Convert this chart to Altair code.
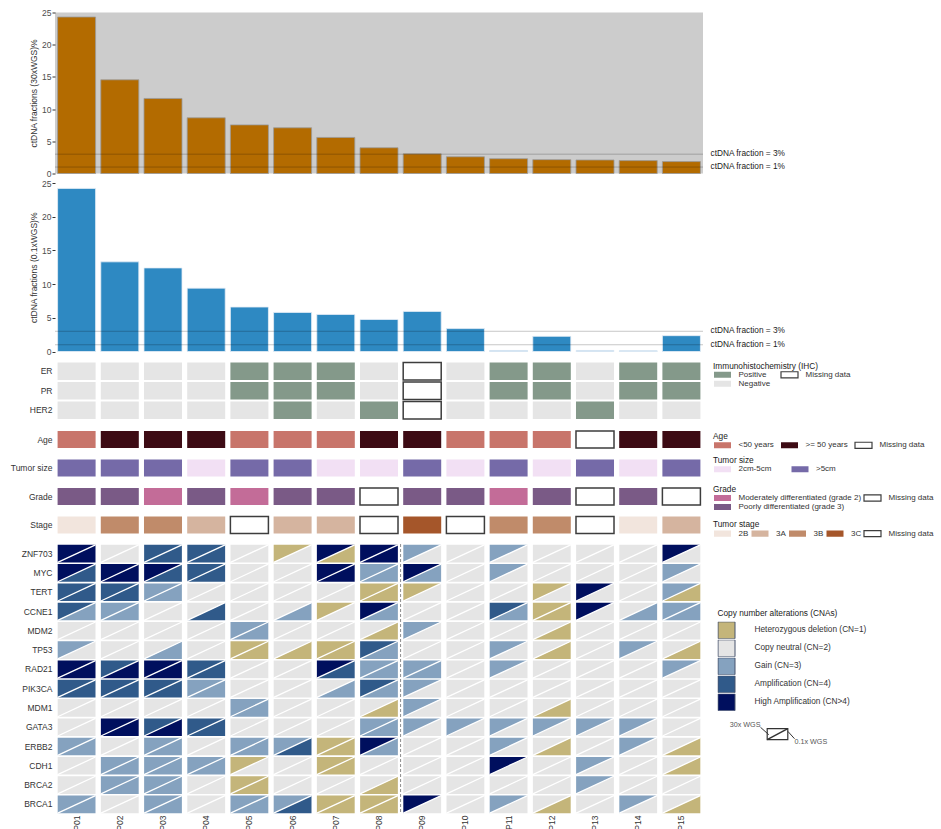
import altair as alt
import pandas as pd

# ---------------- data ----------------
patients = ["P01", "P02", "P03", "P04", "P05", "P06", "P07", "P08",
            "P09", "P10", "P11", "P12", "P13", "P14", "P15"]
ctdna_30x = [24.3, 14.55, 11.65, 8.65, 7.55, 7.1, 5.6, 4.0, 3.05, 2.6, 2.3, 2.15, 2.1, 2.0, 1.85]
ctdna_01x = [24.2, 13.3, 12.4, 9.4, 6.6, 5.8, 5.5, 4.75, 5.95, 3.4, 0.15, 2.25, 0.15, 0.1, 2.35]
thresholds = [3, 1]
threshold_labels = ["ctDNA fraction = 3%", "ctDNA fraction = 1%"]

POS, NEG, MISS = "Positive", "Negative", "Missing data"
ihc_markers = ["ER", "PR", "HER2"]
er = [NEG, NEG, NEG, NEG, POS, POS, POS, NEG, MISS, NEG, POS, POS, NEG, POS, POS]
pr = [NEG, NEG, NEG, NEG, POS, POS, POS, NEG, MISS, NEG, POS, POS, NEG, POS, POS]
her2 = [NEG, NEG, NEG, NEG, NEG, POS, NEG, POS, MISS, NEG, NEG, NEG, POS, NEG, NEG]

A1, A2 = "<50 years", ">= 50 years"
age = [A1, A2, A2, A2, A1, A1, A1, A2, A2, A1, A1, A1, MISS, A2, A2]
S1, S2 = "2cm-5cm", ">5cm"
tumor_size = [S2, S2, S2, S1, S2, S2, S1, S1, S2, S1, S2, S1, S2, S1, S2]
G2, G3 = "Moderately differentiated (grade 2)", "Poorly differentiated (grade 3)"
grade = [G3, G3, G2, G3, G2, G3, G3, MISS, G3, G3, G2, G3, MISS, G3, MISS]
stage = ["2B", "3B", "3B", "3A", MISS, "3A", "3A", MISS, "3C", MISS, "3B", "3B", MISS, "2B", "3A"]

genes = ["ZNF703", "MYC", "TERT", "CCNE1", "MDM2", "TP53", "RAD21", "PIK3CA",
         "MDM1", "GATA3", "ERBB2", "CDH1", "BRCA2", "BRCA1"]
# copy number class per patient (1..5); upper-left triangle = 30x WGS
cna_30x = {
    "ZNF703": [5, 2, 4, 4, 2, 1, 5, 5, 3, 2, 3, 2, 2, 2, 5],
    "MYC":    [5, 5, 5, 4, 2, 2, 5, 3, 5, 2, 3, 2, 2, 2, 3],
    "TERT":   [4, 4, 3, 2, 2, 2, 2, 1, 1, 2, 2, 1, 5, 2, 3],
    "CCNE1":  [4, 3, 2, 2, 2, 2, 1, 5, 2, 2, 4, 1, 5, 2, 3],
    "MDM2":   [2, 2, 2, 2, 3, 2, 2, 2, 3, 2, 2, 2, 2, 2, 2],
    "TP53":   [3, 2, 2, 2, 1, 2, 1, 4, 2, 2, 3, 2, 2, 3, 2],
    "RAD21":  [5, 4, 5, 4, 2, 2, 5, 3, 3, 2, 3, 2, 2, 2, 3],
    "PIK3CA": [4, 4, 4, 3, 2, 2, 2, 4, 3, 2, 2, 2, 2, 2, 2],
    "MDM1":   [2, 2, 2, 2, 3, 2, 2, 2, 3, 2, 2, 2, 2, 2, 2],
    "GATA3":  [2, 5, 4, 4, 2, 2, 2, 3, 3, 3, 3, 3, 3, 3, 2],
    "ERBB2":  [3, 2, 3, 2, 3, 3, 1, 5, 2, 2, 3, 2, 2, 3, 2],
    "CDH1":   [2, 3, 3, 3, 1, 2, 1, 2, 2, 2, 5, 2, 3, 2, 2],
    "BRCA2":  [2, 3, 3, 2, 1, 2, 2, 2, 2, 2, 2, 2, 3, 2, 2],
    "BRCA1":  [3, 2, 3, 2, 3, 3, 1, 1, 5, 2, 3, 2, 2, 3, 2],
}
# lower-right triangle = 0.1x WGS
cna_01x = {
    "ZNF703": [5, 2, 4, 4, 2, 2, 1, 5, 2, 2, 2, 2, 2, 2, 2],
    "MYC":    [4, 5, 4, 4, 2, 2, 5, 3, 3, 2, 2, 2, 2, 2, 2],
    "TERT":   [4, 4, 3, 2, 2, 2, 2, 1, 2, 2, 2, 2, 2, 2, 1],
    "CCNE1":  [3, 3, 2, 4, 2, 3, 2, 3, 2, 2, 3, 1, 2, 3, 3],
    "MDM2":   [2, 2, 2, 2, 3, 2, 2, 1, 2, 2, 2, 1, 2, 2, 2],
    "TP53":   [2, 2, 3, 2, 1, 1, 1, 3, 2, 2, 2, 1, 2, 2, 1],
    "RAD21":  [5, 5, 5, 4, 2, 2, 4, 3, 3, 2, 2, 2, 2, 2, 2],
    "PIK3CA": [4, 4, 4, 3, 2, 2, 3, 3, 2, 2, 2, 2, 2, 2, 2],
    "MDM1":   [2, 2, 2, 2, 3, 2, 2, 1, 2, 2, 2, 1, 2, 2, 2],
    "GATA3":  [2, 5, 5, 4, 2, 2, 2, 3, 2, 2, 2, 2, 2, 2, 2],
    "ERBB2":  [3, 2, 3, 2, 3, 4, 1, 3, 2, 2, 2, 1, 2, 2, 1],
    "CDH1":   [2, 3, 3, 3, 2, 2, 1, 2, 2, 2, 2, 2, 2, 2, 1],
    "BRCA2":  [2, 3, 3, 2, 1, 2, 2, 1, 2, 2, 2, 2, 2, 2, 2],
    "BRCA1":  [3, 2, 3, 2, 3, 4, 1, 1, 2, 2, 2, 1, 2, 2, 1],
}
cna_labels = ["Heterozygous deletion (CN=1)", "Copy neutral (CN=2)", "Gain (CN=3)",
              "Amplification (CN=4)", "High Amplification (CN>4)"]
cna_colors = ["#c4b57a", "#e5e5e5", "#85a2bf", "#305a8a", "#000f5e"]

# ---------------- styling ----------------
FONT = "Liberation Sans"
FS = 8.5
LFS = 8.0
W = 648
LEG_X = 658
TXT = "#333333"
TRANSP = "rgba(0,0,0,0)"
RECT_SYM = "M-1,-0.36H1V0.36H-1Z"
SQ_SYM = "M-1,-1H1V1H-1Z"
KX = 2.5  # horizontal shift of the small split-cell key

xscale = alt.Scale(type="band", domain=patients, paddingInner=0.12, paddingOuter=0.06)
x_axis_bottom = alt.Axis(title=None, labelAngle=-90, labelFontSize=FS, labelColor=TXT,
                         ticks=False, domain=False, labelPadding=1,
                         labelAlign="right", labelBaseline="middle")


def xenc(show=False):
    return alt.X("patient:N", scale=xscale, axis=x_axis_bottom if show else None)


yheat_axis = alt.Axis(title=None, ticks=False, domain=False, labelFontSize=FS,
                      labelColor=TXT, labelPadding=3)


def ybar_axis(title):
    return alt.Axis(title=title, values=[0, 5, 10, 15, 20, 25], grid=False, domain=False,
                    tickSize=3, tickColor=TXT, labelFontSize=FS, labelColor="#4d4d4d",
                    labelPadding=1, titleFontSize=FS, titleFontWeight="normal",
                    titleColor=TXT, titlePadding=3)


# ---------------- bar panels ----------------
df_bars = pd.DataFrame({"patient": patients, "v30": ctdna_30x, "v01": ctdna_01x})
df_thr = pd.DataFrame({"t": thresholds, "label": threshold_labels})


def bar_panel(field, title, color, edge, height, bg):
    ys = alt.Scale(domain=[0, 25], nice=False)
    ax = ybar_axis(title)
    bars = alt.Chart(df_bars).mark_bar(color=color, stroke=edge, strokeWidth=0.8).encode(
        x=xenc(), y=alt.Y(f"{field}:Q", scale=ys, axis=ax))
    rules = alt.Chart(df_thr).mark_rule(color="black", opacity=0.22, strokeWidth=1).encode(
        y=alt.Y("t:Q", scale=ys, axis=ax))
    texts = alt.Chart(df_thr).mark_text(align="left", baseline="middle", fontSize=8.3,
                                        color="#1a1a1a").encode(
        x=alt.value(W + 7.5), y=alt.Y("t:Q", scale=ys, axis=ax), text="label:N")
    layer = alt.layer(bars, rules, texts).properties(width=W, height=height)
    if bg:
        layer = layer.properties(view=alt.ViewBackground(fill=bg, strokeWidth=0))
    return layer


bar1 = bar_panel("v30", "ctDNA fractions (30xWGS)%", "#b36b00", "#9a9a9a", 161, "#cccccc")
bar2 = bar_panel("v01", "ctDNA fractions (0.1xWGS)%", "#2e89c2", "#e6eef6", 168.5, None)


# ---------------- clinical panels ----------------
def small_legend(title, columns, ly, colpad=3):
    return alt.Legend(title=title, orient="none", legendX=LEG_X, legendY=ly, columns=columns,
                      symbolType=RECT_SYM, symbolSize=289, symbolStrokeWidth=1.2,
                      clipHeight=9, labelFontSize=LFS, labelColor=TXT, titleFontSize=8.3,
                      titleFontWeight="normal", titleColor="#1a1a1a", labelOffset=6.5,
                      columnPadding=colpad, rowPadding=0, titlePadding=0.5, labelLimit=300)


def heat_panel(df, rows, domain, fills, strokes, legend, height):
    return alt.Chart(df).mark_rect(strokeWidth=1.5).encode(
        x=xenc(),
        y=alt.Y("row:N", scale=alt.Scale(type="band", domain=rows, paddingInner=0.1,
                                         paddingOuter=0.05), axis=yheat_axis),
        fill=alt.Fill("value:N", scale=alt.Scale(domain=domain, range=fills), legend=legend),
        stroke=alt.Stroke("value:N", scale=alt.Scale(domain=domain, range=strokes), legend=legend),
    ).properties(width=W, height=height)


ihc_rows = []
for marker, vals in zip(ihc_markers, [er, pr, her2]):
    for p, v in zip(patients, vals):
        ihc_rows.append({"patient": p, "row": marker, "value": v})
df_ihc = pd.DataFrame(ihc_rows)
ihc = heat_panel(df_ihc, ihc_markers, [POS, NEG, MISS], ["#84998a", "#e5e5e5", "#ffffff"],
                 [TRANSP, TRANSP, "#3d3d3d"],
                 small_legend("Immunohistochemistry (IHC)", 2, 0, colpad=9), 58.5)


def clin(label, values, domain, fills, strokes, legend):
    df = pd.DataFrame({"patient": patients, "row": label, "value": values})
    return heat_panel(df, [label], domain, fills, strokes, legend, 19)


age_p = clin("Age", age, [A1, A2, MISS], ["#c8756b", "#3d0b14", "#ffffff"],
             [TRANSP, TRANSP, "#3d3d3d"], small_legend("Age", 3, 2, colpad=6))
size_p = clin("Tumor size", tumor_size, [S1, S2], ["#f2e0f4", "#756aa8"],
              [TRANSP, TRANSP], small_legend("Tumor size", 2, -2.5, colpad=18.5))
grade_p = clin("Grade", grade, [G2, G3, MISS], ["#c36c98", "#7a5a86", "#ffffff"],
               [TRANSP, TRANSP, "#3d3d3d"], small_legend("Grade", 2, -2.3, colpad=1))
stage_p = clin("Stage", stage, ["2B", "3A", "3B", "3C", MISS],
               ["#f2e5dd", "#d5b49f", "#c08b6a", "#a5562a", "#ffffff"],
               [TRANSP, TRANSP, TRANSP, TRANSP, "#3d3d3d"],
               small_legend("Tumor stage", 5, 4.8, colpad=1.5))

# ---------------- CNA panel ----------------
cna_rows = []
for g in genes:
    for i, p in enumerate(patients):
        cna_rows.append({"patient": p, "gene": g,
                         "c30": cna_labels[cna_30x[g][i] - 1],
                         "c01": cna_labels[cna_01x[g][i] - 1]})
df_cna = pd.DataFrame(cna_rows)

H = 0.466
UPPER = f"M-1,-{H}L1,-{H}L-1,{H}Z"
LOWER = f"M1,-{H}L1,{H}L-1,{H}Z"
DIAG = f"M-1,{H}L1,-{H}"
PSIZE = 1429

yscale_cna = alt.Scale(type="band", domain=genes, paddingInner=0.1, paddingOuter=0.05)
cna_fill_scale = alt.Scale(domain=cna_labels, range=cna_colors)
cna_legend = alt.Legend(title="Copy number alterations (CNAs)", orient="none",
                        legendX=662.5, legendY=65, symbolType=SQ_SYM, symbolSize=289,
                        symbolStrokeColor="#46526c", symbolStrokeWidth=1, clipHeight=17,
                        labelFontSize=8.3, labelColor=TXT, titleFontSize=8.3,
                        titleFontWeight="normal", titleColor="#1a1a1a", labelOffset=19,
                        rowPadding=1, titlePadding=4.5, labelLimit=300)

xcna = xenc(True)
ycna = alt.Y("gene:N", scale=yscale_cna, axis=yheat_axis)

upper = alt.Chart(df_cna).mark_point(shape=UPPER, size=PSIZE, filled=True, opacity=1,
                                     strokeWidth=0).encode(
    x=xcna, y=ycna, fill=alt.Fill("c30:N", scale=cna_fill_scale, legend=cna_legend))
lower = alt.Chart(df_cna).mark_point(shape=LOWER, size=PSIZE, filled=True, opacity=1,
                                     strokeWidth=0).encode(
    x=xcna, y=ycna, fill=alt.Fill("c01:N", scale=cna_fill_scale, legend=cna_legend))
diag = alt.Chart(df_cna).mark_point(shape=DIAG, size=PSIZE, filled=False, color="white",
                                    strokeWidth=1.3, opacity=1).encode(x=xcna, y=ycna)
split = alt.Chart(pd.DataFrame({"patient": ["P09"]})).mark_rule(
    color="#8c8c8c", strokeDash=[3, 2], strokeWidth=1, xOffset=-2.6).encode(
    x=alt.X("patient:N", scale=xscale, bandPosition=0, axis=x_axis_bottom))

# small key explaining the split cell
one = alt.Data(values=[{}])
key_box = alt.Chart(one).mark_rect(fill="white", stroke="#333333", strokeWidth=1.2).encode(
    x=alt.value(709.7 + KX), x2=alt.value(730.3 + KX), y=alt.value(184.7), y2=alt.value(195.7))
key_diag = alt.Chart(one).mark_rule(color="#333333", strokeWidth=1.5).encode(
    x=alt.value(709.7 + KX), x2=alt.value(730.3 + KX), y=alt.value(195.7), y2=alt.value(184.7))
key_l1 = alt.Chart(one).mark_rule(color="#333333", strokeWidth=1).encode(
    x=alt.value(703 + KX), x2=alt.value(711.3 + KX), y=alt.value(183.3), y2=alt.value(190.7))
key_l2 = alt.Chart(one).mark_rule(color="#333333", strokeWidth=1).encode(
    x=alt.value(730.3 + KX), x2=alt.value(737 + KX), y=alt.value(187.3), y2=alt.value(194.7))
key_t1 = alt.Chart(one).mark_text(text="30x WGS", align="right", baseline="middle",
                                  fontSize=7.2, color="#555555").encode(
    x=alt.value(703 + KX), y=alt.value(181.3))
key_t2 = alt.Chart(one).mark_text(text="0.1x WGS", align="left", baseline="middle",
                                  fontSize=7.2, color="#555555").encode(
    x=alt.value(737 + KX), y=alt.value(198.3))

cna = alt.layer(lower, upper, diag, split, key_box, key_diag, key_l1, key_l2,
                key_t1, key_t2).properties(width=W, height=270)

# ---------------- assemble ----------------
chart = alt.vconcat(bar1, bar2, ihc, age_p, size_p, grade_p, stage_p, cna,
                    spacing=9.5, bounds="flush").resolve_scale(
    fill="independent", stroke="independent"
).properties(
    padding={"left": 10, "top": 8.5, "right": 0, "bottom": 0}
).configure(font=FONT).configure_view(strokeWidth=0)

chart.save("out.html", embed_options={"renderer": "svg", "actions": False})
